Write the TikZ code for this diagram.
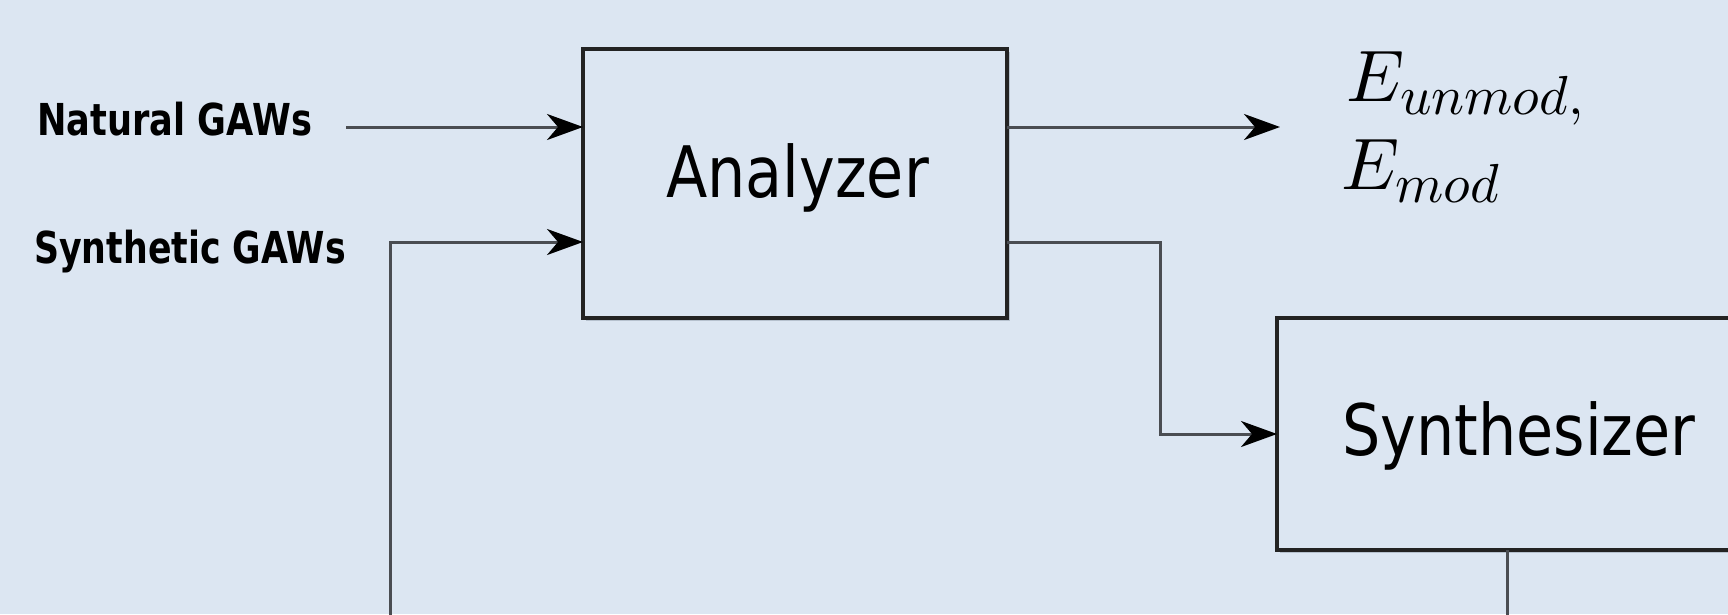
\documentclass[tikz,border=0pt]{standalone}
\usepackage{fontspec}
\setsansfont{DejaVu Sans}
\DeclareFontFamily{OML}{cmmx}{\skewchar\font127}
\DeclareFontShape{OML}{cmmx}{m}{it}{<->cmmi10}{}
\DeclareSymbolFont{letters}{OML}{cmmx}{m}{it}
\DeclareFontFamily{OMS}{cmsx}{\skewchar\font48}
\DeclareFontShape{OMS}{cmsx}{m}{n}{<->cmsy10}{}
\DeclareSymbolFont{symbols}{OMS}{cmsx}{m}{n}
\DeclareMathSizes{73}{73}{55}{44}
\usetikzlibrary{arrows.meta,shadows}
\definecolor{bgc}{HTML}{DCE6F2}
\definecolor{linec}{HTML}{4A4D52}
\definecolor{boxc}{HTML}{232323}
\definecolor{shadc}{HTML}{B6C1CE}
\begin{document}
\begin{tikzpicture}[x=1pt,y=-1pt,
  blk/.style={draw=boxc, line width=3.5pt, fill=bgc, rectangle, inner sep=0pt, outer sep=0pt,
    drop shadow={shadow xshift=2.5pt, shadow yshift=-2.5pt, fill=shadc, opacity=1}},
  conn/.style={draw=linec, line width=3pt},
  arr/.style={conn, -{Stealth[length=36pt,width=26pt,inset=11pt,color=black]}},
  blabel/.style={font=\sffamily\fontsize{71}{80}\selectfont, inner sep=0pt, anchor=base west},
  inlabel/.style={font=\sffamily\bfseries\fontsize{44}{50}\selectfont, inner sep=0pt, anchor=base west},
  mlabel/.style={font=\fontsize{73}{80}\selectfont, inner sep=0pt, anchor=base west}]
\fill[bgc] (0,0) rectangle (1728,614);
\useasboundingbox (0,0) rectangle (1728,614);
\begin{scope}
\clip (0,0) rectangle (1728,614);
% blocks
\node[blk, minimum width=424pt, minimum height=269pt] (ana) at (795,183.5) {};
\node[blk, minimum width=523pt, minimum height=232pt] (syn) at (1538.5,434) {};
% block labels
\node[blabel] (analbl) at (666,197) {\scalebox{0.85}[1]{Analyzer}};
\node[blabel] (synlbl) at (1342,455) {\scalebox{0.85}[1]{Synthesizer}};
% input labels
\node[inlabel] (natlbl) at (37,135) {\scalebox{0.80}[1]{Natural GAWs}};
\node[inlabel] (synglbl) at (34,263) {\scalebox{0.79}[1]{Synthetic GAWs}};
% output labels
\node[mlabel] (eun) at (1346,101) {$E_{unmod,}$};
\node[mlabel] (emod) at (1341,189) {$E_{mod}$};
% free ends
\coordinate (natstart) at (346,127);
\coordinate (outtip) at (1280,127);
\coordinate (fbL) at (390,640);
\coordinate (fbR) at (1507,640);
% connectors
\draw[arr] (natstart) -- ([yshift=-78pt]ana.north west);
\draw[arr] (fbL) |- ([yshift=76pt]ana.south west);
\draw[arr] ([yshift=-78pt]ana.north east) -- (outtip);
\draw[arr] ([yshift=76pt]ana.south east) -- ++(153,0) |- (syn.west);
\draw[conn] ([xshift=230pt]syn.south west) -- (fbR);
\end{scope}
\end{tikzpicture}
\end{document}
